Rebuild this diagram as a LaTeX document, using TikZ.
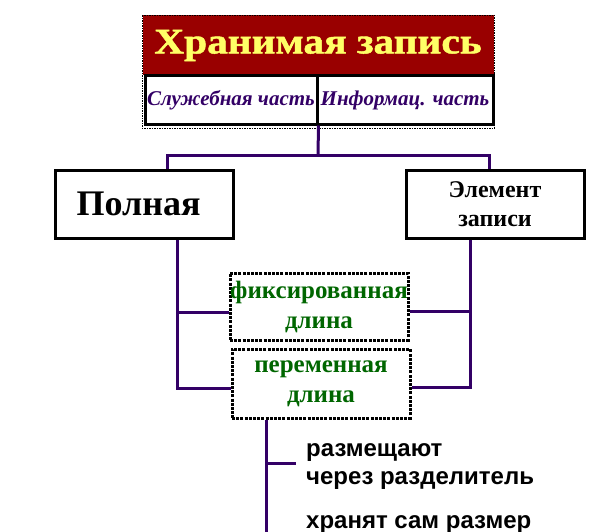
\documentclass[tikz,border=0pt]{standalone}
\usepackage{fontspec}
\setmainfont{Liberation Serif}
\setsansfont{Liberation Sans}
\newfontfamily\headfont[FakeBold=1.2]{Liberation Serif Bold}
\usepackage{graphicx}
\usetikzlibrary{arrows,shapes}
\definecolor{darkred}{HTML}{990000}
\definecolor{paleyellow}{HTML}{FFFF66}
\definecolor{indigo}{HTML}{330066}
\definecolor{darkgreen}{HTML}{006600}
\tikzstyle{headbox}=[rectangle,fill=darkred,text=paleyellow,minimum width=351pt,minimum height=60pt,inner sep=0pt,font=\headfont\fontsize{36}{40}\selectfont]
\tikzstyle{partbox}=[rectangle,draw=black,line width=3pt,fill=white,text=indigo,minimum height=48pt,inner sep=0pt,font=\fontsize{21}{25}\selectfont\bfseries\itshape]
\tikzstyle{outerframe}=[draw=black,line width=1.5pt,densely dotted]
\tikzstyle{kindbox}=[rectangle,draw=black,line width=3pt,minimum width=178pt,minimum height=68pt,inner sep=0pt,align=center]
\tikzstyle{lenbox}=[rectangle,draw=black,line width=3pt,dash pattern=on 3pt off 1.2pt,text=darkgreen,minimum width=178pt,inner sep=0pt,align=center,font=\fontsize{25}{30}\selectfont\bfseries]
\tikzstyle{link}=[draw=indigo,line width=3pt]
\tikzstyle{note}=[anchor=west,align=left,inner sep=0pt,font=\sffamily\bfseries\fontsize{24}{28}\selectfont]

\begin{document}
\begin{tikzpicture}[x=1pt,y=-1pt]
    \useasboundingbox (0,0) rectangle (607,532);

    \node[headbox] (head) at (318,45.5) {\scalebox{1.15}[1]{Хранимая запись}};

    \foreach \x/\w/\name/\txt in {231/172/serv/{Служебная часть}, 405/176/info/{Информац. часть}}
        \node[partbox, minimum width=\w pt] (\name) at (\x,100) {\txt};

    \draw[outerframe] (head.north west) rectangle ([yshift=-3pt]info.south east);

    \node[kindbox, font=\fontsize{36}{40}\selectfont\bfseries] (full) at (144.5,204) {\hspace*{-12pt}Полная};
    \node[kindbox, font=\fontsize{24}{29}\selectfont\bfseries] (elem) at (495,204) {Элемент\\записи};

    \foreach \x/\y/\h/\name/\txt in {319/306.5/67/fixed/{фиксированная\\длина}, 321/383.5/69/var/{переменная\\длина}}
        \node[lenbox, minimum height=\h pt] (\name) at (\x,\y) {\txt};

    \node[note] (place) at (306,467) {размещают\\через разделитель};
    \node[note] (keep) at (306,524.5) {хранят сам размер};

    % top tree
    \coordinate (hub) at (318,155);
    \draw[link] (serv.south east) -- (hub);
    \draw[link] ([xshift=22.5pt]full.north) |- (hub) -| ([xshift=-6pt]elem.north);

    % length kinds
    \draw[link] ([xshift=32.5pt]full.south) |- ([yshift=-4.5pt]var.west);
    \draw[link] ([yshift=-5.5pt]fixed.west) -| ([xshift=32.5pt]full.south);
    \draw[link] ([xshift=-25pt]elem.south) |- ([yshift=-3.5pt]var.east);
    \draw[link] ([yshift=-4.5pt]fixed.east) -| ([xshift=-25pt]elem.south);

    % variable length
    \coordinate (tail) at (266,532);
    \coordinate (fork) at (266,463);
    \draw[link] ([xshift=-55pt]var.south) -- (tail);
    \draw[link, shorten >=10pt] (fork) -- (fork -| place.west);
\end{tikzpicture}
\end{document}
